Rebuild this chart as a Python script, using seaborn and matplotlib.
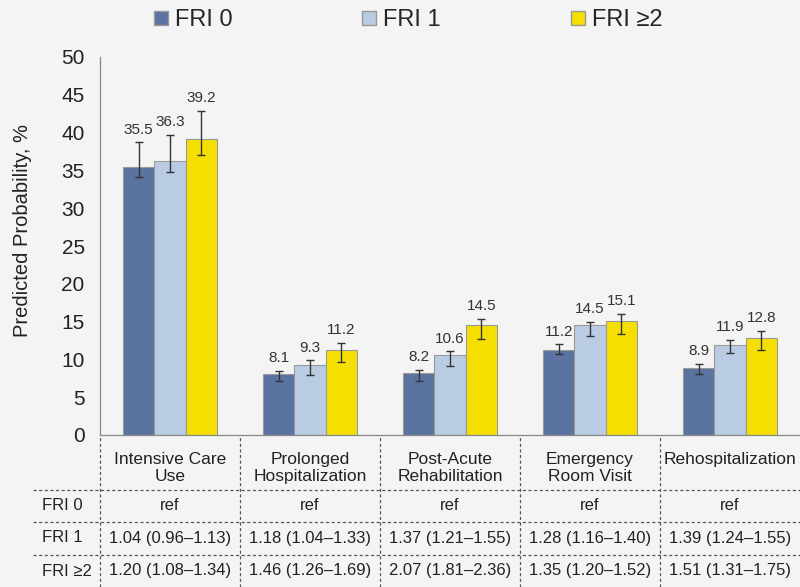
import numpy as np
import pandas as pd
import matplotlib
matplotlib.use("Agg")
import matplotlib.pyplot as plt
import seaborn as sns

# data
outcomes = ["Intensive Care\nUse", "Prolonged\nHospitalization", "Post-Acute\nRehabilitation",
            "Emergency\nRoom Visit", "Rehospitalization"]
groups = ["FRI 0", "FRI 1", "FRI \u22652"]
fri0 = [35.5, 8.1, 8.2, 11.2, 8.9]
fri1 = [36.3, 9.3, 10.6, 14.5, 11.9]
fri2 = [39.2, 11.2, 14.5, 15.1, 12.8]
fri0_lo = [34.1, 7.1, 7.1, 10.7, 8.1]
fri0_hi = [38.7, 8.5, 8.6, 12.0, 9.4]
fri1_lo = [34.8, 8.0, 9.1, 13.1, 10.8]
fri1_hi = [39.7, 9.9, 11.1, 15.0, 12.6]
fri2_lo = [37.0, 9.6, 12.7, 13.4, 11.2]
fri2_hi = [42.9, 12.2, 15.4, 16.0, 13.8]

row_fri0 = ["ref", "ref", "ref", "ref", "ref"]
row_fri1 = ["1.04 (0.96\u20131.13)", "1.18 (1.04\u20131.33)", "1.37 (1.21\u20131.55)",
            "1.28 (1.16\u20131.40)", "1.39 (1.24\u20131.55)"]
row_fri2 = ["1.20 (1.08\u20131.34)", "1.46 (1.26\u20131.69)", "2.07 (1.81\u20132.36)",
            "1.35 (1.20\u20131.52)", "1.51 (1.31\u20131.75)"]

colors = ["#5a73a0", "#b9cce3", "#f5df00"]
bg = "#f4f4f4"

sns.set_style("white")
plt.rcParams['font.family'] = ['Liberation Sans', 'DejaVu Sans']

rows = []
for g, vals, lo, hi in zip(groups, [fri0, fri1, fri2], [fri0_lo, fri1_lo, fri2_lo], [fri0_hi, fri1_hi, fri2_hi]):
    for o, v, l, h in zip(outcomes, vals, lo, hi):
        rows.append({"outcome": o, "group": g, "value": v, "lo": l, "hi": h})
df = pd.DataFrame(rows)

fig = plt.figure(figsize=(8, 5.87), dpi=100, facecolor=bg)
W, H = 800, 587
ax = fig.add_axes([100 / W, (H - 435) / H, 700 / W, 378 / H])
ax.set_facecolor(bg)

sns.barplot(data=df, x="outcome", y="value", hue="group", order=outcomes, hue_order=groups,
            palette=colors, saturation=1, width=0.67, gap=0, errorbar=None, edgecolor="#999999",
            linewidth=0.8, ax=ax, legend=False)

# error bars and value labels from seaborn's bar positions
for cont, g in zip(ax.containers, groups):
    sub = df[df.group == g].set_index("outcome").loc[outcomes]
    xs = [p.get_x() + p.get_width() / 2 for p in cont]
    ys = [p.get_height() for p in cont]
    ax.errorbar(xs, ys, yerr=[sub.value - sub.lo, sub.hi - sub.value], fmt="none",
                ecolor="#333333", elinewidth=1, capsize=3, capthick=1)
    for x, h, v in zip(xs, sub.hi, sub.value):
        ax.annotate(f"{v:.1f}", (x, h), xytext=(0, 4), textcoords="offset points",
                    ha="center", va="bottom", fontsize=11, color="#333333")

ax.set_xlim(-0.5, 4.5)
ax.set_ylim(0, 50)
ax.set_yticks(np.arange(0, 51, 5))
ax.tick_params(axis="y", length=5, width=0.8, color="#888888", labelsize=15, pad=6, labelcolor="#222222")
ax.tick_params(axis="x", length=0, labelsize=12.5, pad=12, labelcolor="#222222")
ax.set_xlabel("")
ax.set_ylabel("Predicted Probability, %", fontsize=14.5, color="#222222", va="center")
ax.yaxis.set_label_coords(-0.111, 0.54)
for s in ["top", "right"]:
    ax.spines[s].set_visible(False)
for s in ["left", "bottom"]:
    ax.spines[s].set_color("#888888")
    ax.spines[s].set_linewidth(0.9)

# table below the chart
dash = dict(color="#555555", linestyle=(0, (2.5, 2)), linewidth=0.9)
for k in range(5):
    xf = (100 + 140 * k) / W
    fig.add_artist(plt.Line2D([xf, xf], [0, (H - 436) / H], transform=fig.transFigure, **dash))
for yp in [490, 522, 555]:
    fig.add_artist(plt.Line2D([33 / W, 1], [(H - yp) / H] * 2, transform=fig.transFigure, **dash))

row_y = [506, 538, 571]
for label, vals, yp in zip(groups, [row_fri0, row_fri1, row_fri2], row_y):
    fig.text(42 / W, (H - yp) / H, label, ha="left", va="center", fontsize=12, color="#222222")
    for k, t in enumerate(vals):
        fig.text((170 + 140 * k) / W, (H - yp) / H, t, ha="center", va="center",
                 fontsize=12, color="#222222")

# legend on top
handles = [plt.Line2D([], [], marker="s", linestyle="none", markersize=10, markerfacecolor=c,
                      markeredgecolor="#999999") for c in colors]
fig.legend(handles, groups, loc="center", bbox_to_anchor=(407 / W, (H - 20) / H), ncol=3,
           frameon=False, fontsize=17, handletextpad=0.2, columnspacing=5.4, handlelength=0.8)

fig.savefig("out.png", dpi=100, facecolor=bg)
